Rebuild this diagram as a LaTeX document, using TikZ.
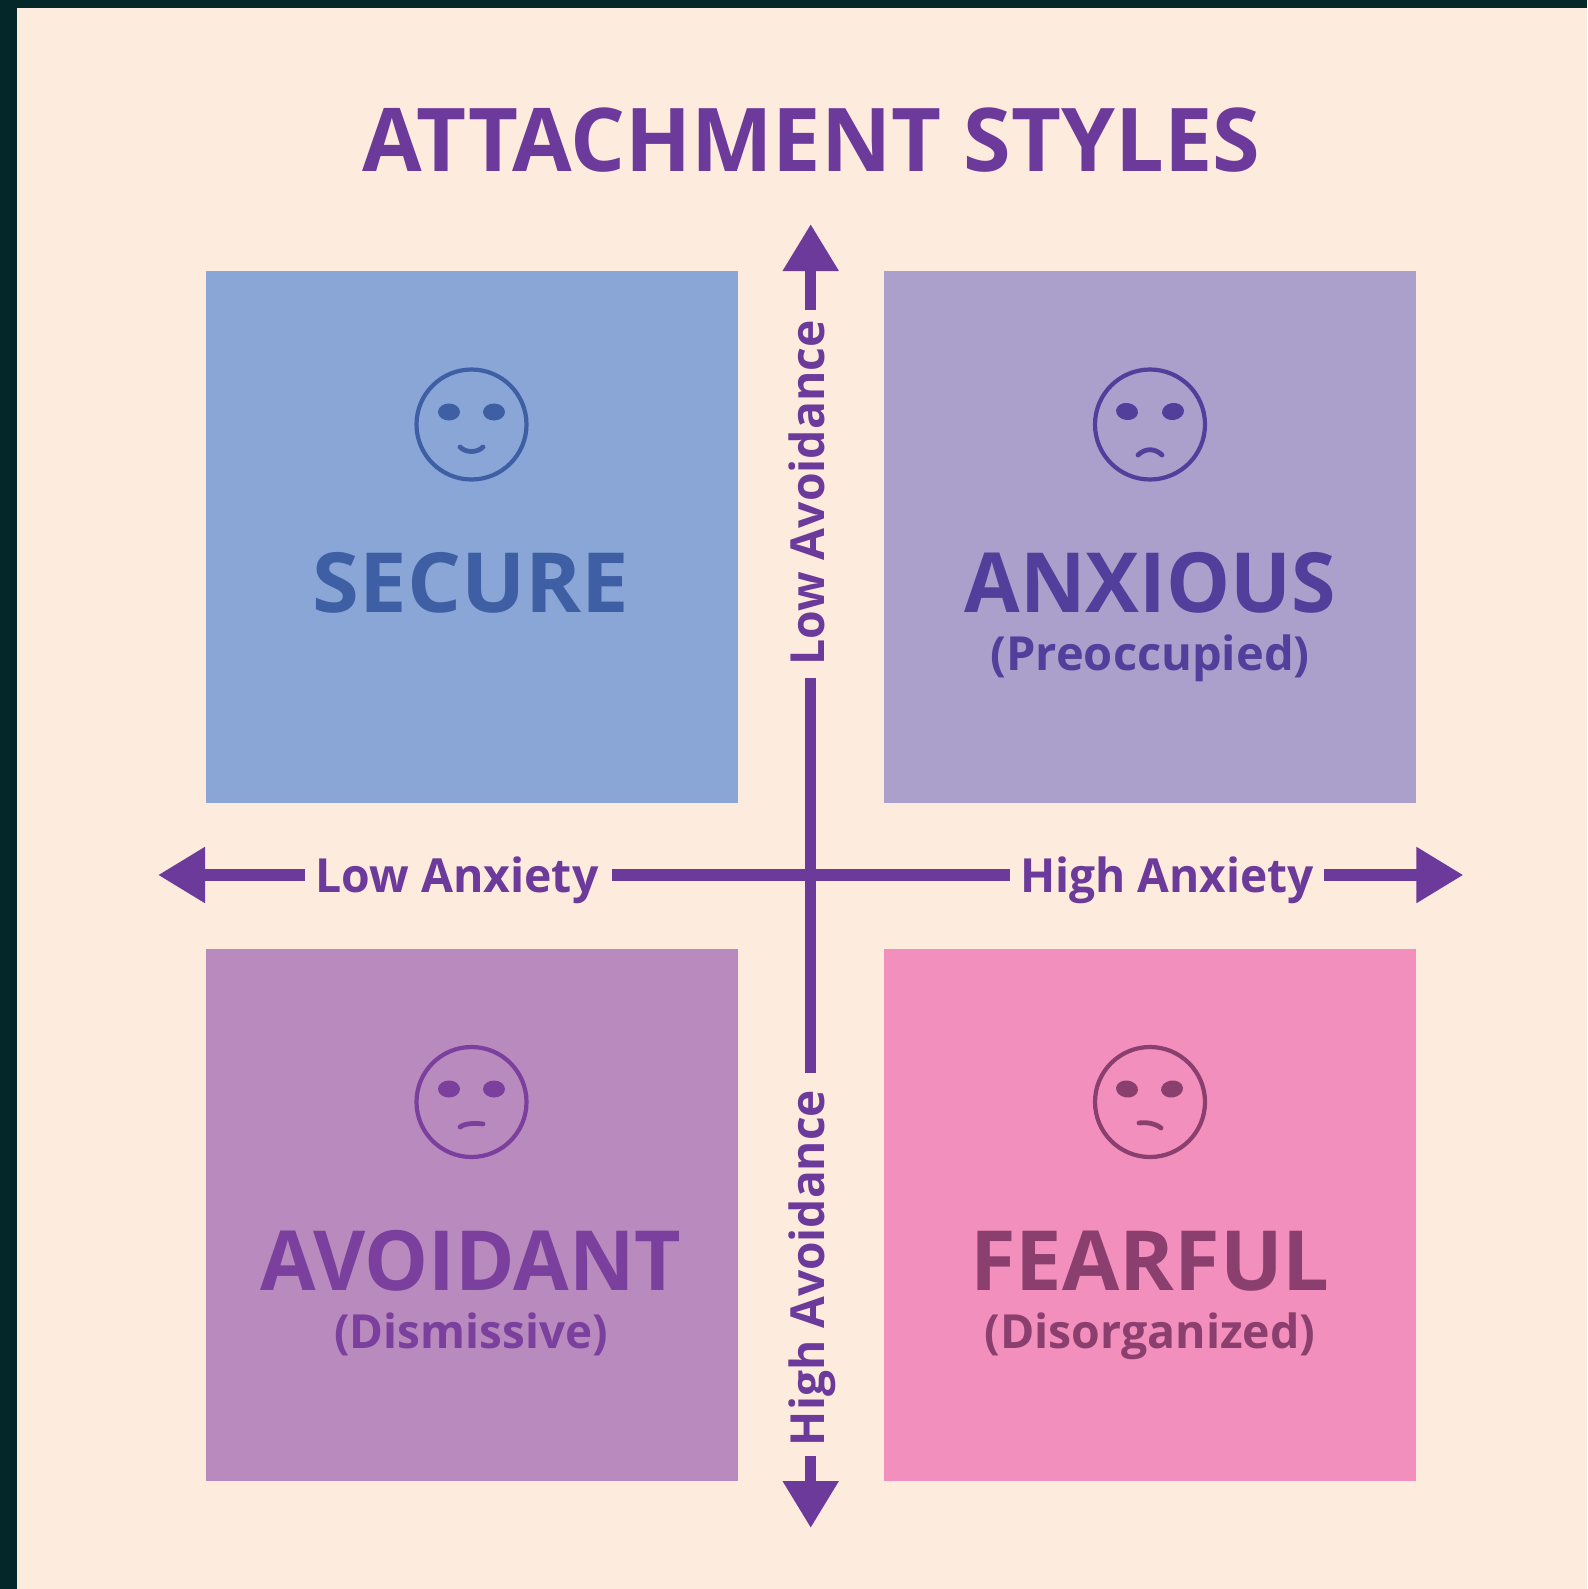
\documentclass[tikz,border=0pt]{standalone}
\usepackage{graphicx}
\usepackage{fontspec}
\setmainfont{Open Sans}
\usetikzlibrary{arrows.meta}
\newcommand{\squeezed}[2]{\scalebox{#1}[1]{#2}}
\definecolor{pagebg}{HTML}{FDEBDD}
\definecolor{frameC}{HTML}{04282A}
\definecolor{axisC}{HTML}{6B3A9A}
\definecolor{secF}{HTML}{8AA6D6}
\definecolor{anxF}{HTML}{ABA0CC}
\definecolor{avoF}{HTML}{B98ABE}
\definecolor{feaF}{HTML}{F28FBC}
\definecolor{secT}{HTML}{3F5FA5}
\definecolor{anxT}{HTML}{523F9B}
\definecolor{avoT}{HTML}{7B3F9E}
\definecolor{feaT}{HTML}{8B3F6E}
\tikzset{
 x=1pt,y=-1pt,
 quad/.style={minimum width=532pt,minimum height=532pt,inner sep=0pt,outer sep=0pt,draw=none,anchor=center},
 heading/.style={anchor=base,inner sep=0pt,font=\fontsize{83}{90}\selectfont\bfseries},
 sub/.style={anchor=base,inner sep=0pt,font=\fontsize{47}{56}\selectfont\bfseries},
 axislabelH/.style={anchor=base,inner xsep=10pt,inner ysep=0pt,text=axisC,font=\fontsize{47}{56}\selectfont\bfseries},
 axislabelV/.style={anchor=base,rotate=90,inner xsep=12pt,inner ysep=0pt,text=axisC,font=\fontsize{47}{56}\selectfont\bfseries},
 axisline/.style={draw=axisC,line width=11.5pt},
 axisarrow/.style={axisline,-{Triangle[length=47pt,width=53pt]}},
 facering/.style={line width=4.2pt,fill=none},
 mouth/.style={line width=4.8pt,line cap=round},
}
\begin{document}
\begin{tikzpicture}
\useasboundingbox (0,0) rectangle (1587,1589);
\fill[frameC] (0,0) rectangle (1587,1589);
\fill[pagebg] (17,8) rectangle (1587,1589);
\node[quad,fill=secF] (secure) at (471.7,536.6) {};
\node[quad,fill=anxF] (anxious) at (1149.7,536.6) {};
\node[quad,fill=avoF] (avoidant) at (471.7,1214.5) {};
\node[quad,fill=feaF] (fearful) at (1149.7,1214.5) {};
\node[anchor=base,inner sep=0pt,text=axisC,font=\fontsize{88}{100}\selectfont\bfseries] (title) at (811.5,171.5) {\squeezed{.982}{ATTACHMENT STYLES}};
\coordinate (ctop) at (810.7,224);
\coordinate (cbot) at (810.7,1528);
\coordinate (cleft) at (158,875);
\coordinate (cright) at (1463.4,875);
\node[axislabelH] (lowanx) at (457,892) {\squeezed{.986}{Low Anxiety}};
\node[axislabelH] (highanx) at (1167,892) {\squeezed{.98}{High Anxiety}};
\node[axislabelV] (lowav) at (824,493) {\squeezed{.985}{Low Avoidance}};
\node[axislabelV] (highav) at (824,1268) {\squeezed{.98}{High Avoidance}};
\draw[axisarrow] (lowanx.west |- cleft) -- (cleft);
\draw[axisarrow] (highanx.east |- cright) -- (cright);
\draw[axisarrow] ([yshift=-2pt]lowav.east -| ctop) -- (ctop);
\draw[axisarrow] ([yshift=2pt]highav.west -| cbot) -- (cbot);
\draw[axisline] ([xshift=3pt]lowanx.east |- cleft) -- (highanx.west |- cright);
\draw[axisline] (lowav.west -| ctop) -- ([yshift=5pt]highav.east -| cbot);
\node[heading,text=secT] (tsec) at (471,612) {\squeezed{1.023}{SECURE}};
\node[heading,text=anxT] (tanx) at (1150,612) {\squeezed{.971}{ANXIOUS}};
\node[sub,text=anxT] (sanx) at (1150,670) {(Preoccupied)};
\node[heading,text=avoT] (tavo) at (471,1290) {\squeezed{.97}{AVOIDANT}};
\node[sub,text=avoT] (savo) at (471,1348) {\squeezed{.975}{(Dismissive)}};
\node[heading,text=feaT] (tfea) at (1150,1290) {FEARFUL};
\node[sub,text=feaT] (sfea) at (1150,1348) {\squeezed{.988}{(Disorganized)}};
% faces
\draw[secT,facering] (471.5,424.5) circle (55);
\fill[secT] (449,412) ellipse (11 and 8.5);
\fill[secT] (494,412) ellipse (11 and 8.5);
\draw[secT,mouth] (460,447) .. controls (466,453) and (477,453) .. (483,447);
\draw[anxT,facering] (1150,424.5) circle (55);
\fill[anxT,rotate around={-8:(1127,411.5)}] (1127,411.5) ellipse (11 and 8.5);
\fill[anxT,rotate around={8:(1173,411.5)}] (1173,411.5) ellipse (11 and 8.5);
\draw[anxT,mouth] (1138,455) .. controls (1145,448) and (1155,448) .. (1162,455);
\draw[avoT,facering] (471.5,1102) circle (55);
\fill[avoT] (449,1089) ellipse (11 and 8.5);
\fill[avoT] (494,1089) ellipse (11 and 8.5);
\draw[avoT,mouth] (460,1127) .. controls (465,1123) and (476,1123) .. (483,1124);
\draw[feaT,facering] (1150,1102) circle (55);
\fill[feaT,rotate around={-8:(1127,1089)}] (1127,1089) ellipse (11 and 8.5);
\fill[feaT,rotate around={8:(1172,1089)}] (1172,1089) ellipse (11 and 8.5);
\draw[feaT,mouth] (1139,1123) .. controls (1145,1122) and (1155,1123) .. (1161,1128);
\end{tikzpicture}
\end{document}
